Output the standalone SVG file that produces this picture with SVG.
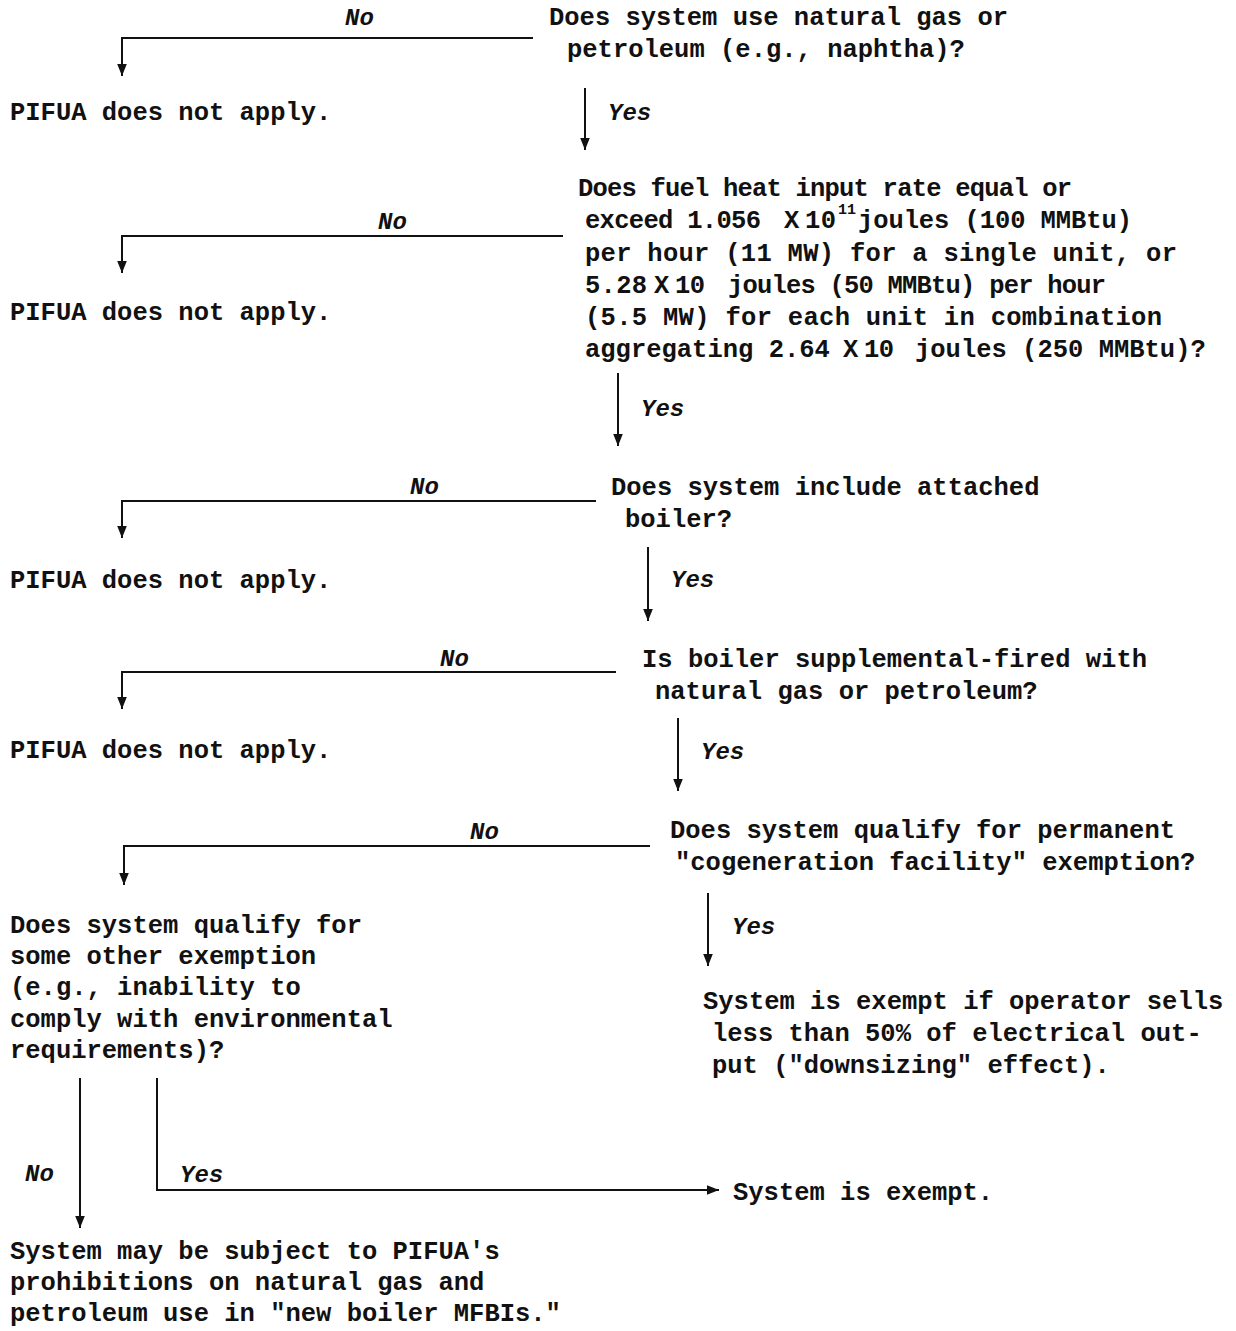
<svg xmlns="http://www.w3.org/2000/svg" width="1236" height="1331" viewBox="0 0 1236 1331">
<style>
.t{font-family:"Liberation Mono","Courier New",monospace;font-size:25.5px;font-weight:bold;fill:#111}
.s{font-family:"Liberation Mono","Courier New",monospace;font-size:15px;font-weight:bold;fill:#111}
.l{font-family:"Liberation Mono","Courier New",monospace;font-size:24px;font-style:italic;font-weight:bold;fill:#111}
.c{fill:none;stroke:#111;stroke-width:2}
</style>
<defs>
<marker id="ah" viewBox="0 0 10 10" refX="10" refY="5" markerWidth="12" markerHeight="12" markerUnits="userSpaceOnUse" orient="auto">
<path d="M0,1 L10,5 L0,9 Z" fill="#111"/>
</marker>
</defs>
<rect width="1236" height="1331" fill="#fff"/>
<g id="connectors">
<path class="c" d="M533,38 H122 V76" marker-end="url(#ah)"/>
<path class="c" d="M585,88 V150" marker-end="url(#ah)"/>
<path class="c" d="M563,236 H122 V273" marker-end="url(#ah)"/>
<path class="c" d="M618,373 V446" marker-end="url(#ah)"/>
<path class="c" d="M596,501 H122 V538" marker-end="url(#ah)"/>
<path class="c" d="M648,547 V621" marker-end="url(#ah)"/>
<path class="c" d="M616,672 H122 V709" marker-end="url(#ah)"/>
<path class="c" d="M678,718 V791" marker-end="url(#ah)"/>
<path class="c" d="M650,846 H124 V885" marker-end="url(#ah)"/>
<path class="c" d="M708,893 V966" marker-end="url(#ah)"/>
<path class="c" d="M80,1078 V1228" marker-end="url(#ah)"/>
<path class="c" d="M157,1078 V1190 H719" marker-end="url(#ah)"/>
<text class="l" x="345" y="25">No</text>
<text class="l" x="608" y="120">Yes</text>
<text class="l" x="378" y="229">No</text>
<text class="l" x="641" y="416">Yes</text>
<text class="l" x="410" y="494">No</text>
<text class="l" x="671" y="587">Yes</text>
<text class="l" x="440" y="666">No</text>
<text class="l" x="701" y="759">Yes</text>
<text class="l" x="470" y="839">No</text>
<text class="l" x="732" y="934">Yes</text>
<text class="l" x="25" y="1181">No</text>
<text class="l" x="180" y="1182">Yes</text>
</g>
<g id="q1">
<text class="t" x="549" y="25">Does system use natural gas or</text>
<text class="t" x="567" y="57">petroleum (e.g., naphtha)?</text>
</g>
<g id="n1"><text class="t" x="10" y="120">PIFUA does not apply.</text></g>
<g id="q2">
<text class="t" x="578" y="196" textLength="494">Does fuel heat input rate equal or</text>
<text class="t" x="585" y="228"><tspan textLength="176">exceed 1.056</tspan><tspan x="784">X</tspan><tspan x="805" textLength="31">10</tspan></text>
<text class="s" x="838" y="214">11</text>
<text class="t" x="858" y="228" textLength="274">joules (100 MMBtu)</text>
<text class="t" x="585" y="261" textLength="592">per hour (11 MW) for a single unit, or</text>
<text class="t" x="585" y="293"><tspan textLength="62">5.28</tspan><tspan x="654">X</tspan><tspan x="675" textLength="30">10</tspan><tspan x="728" textLength="378">joules (50 MMBtu) per hour</tspan></text>
<text class="t" x="585" y="325" textLength="577">(5.5 MW) for each unit in combination</text>
<text class="t" x="585" y="357"><tspan>aggregating 2.64</tspan><tspan x="843">X</tspan><tspan x="864" textLength="30">10</tspan><tspan x="915">joules (250 MMBtu)?</tspan></text>
</g>
<g id="n2"><text class="t" x="10" y="320">PIFUA does not apply.</text></g>
<g id="q3">
<text class="t" x="611" y="495">Does system include attached</text>
<text class="t" x="625" y="527">boiler?</text>
</g>
<g id="n3"><text class="t" x="10" y="588">PIFUA does not apply.</text></g>
<g id="q4">
<text class="t" x="642" y="667">Is boiler supplemental-fired with</text>
<text class="t" x="655" y="699">natural gas or petroleum?</text>
</g>
<g id="n4"><text class="t" x="10" y="758">PIFUA does not apply.</text></g>
<g id="q5">
<text class="t" x="670" y="838">Does system qualify for permanent</text>
<text class="t" x="675" y="870">"cogeneration facility" exemption?</text>
</g>
<g id="r5">
<text class="t" x="703" y="1009">System is exempt if operator sells</text>
<text class="t" x="712" y="1041">less than 50% of electrical out-</text>
<text class="t" x="712" y="1073">put ("downsizing" effect).</text>
</g>
<g id="q6">
<text class="t" x="10" y="933">Does system qualify for</text>
<text class="t" x="10" y="964">some other exemption</text>
<text class="t" x="10" y="995">(e.g., inability to</text>
<text class="t" x="10" y="1027">comply with environmental</text>
<text class="t" x="10" y="1058">requirements)?</text>
</g>
<g id="r6"><text class="t" x="733" y="1200">System is exempt.</text></g>
<g id="r7">
<text class="t" x="10" y="1259">System may be subject to PIFUA's</text>
<text class="t" x="10" y="1290">prohibitions on natural gas and</text>
<text class="t" x="10" y="1321">petroleum use in "new boiler MFBIs."</text>
</g>
</svg>
